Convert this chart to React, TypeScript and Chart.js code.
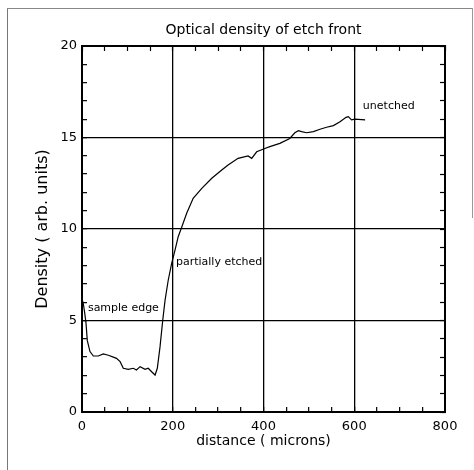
import { useEffect, useRef } from 'react';
import { Chart, registerables } from 'chart.js';

Chart.register(...registerables);

const FONT = '"DejaVu Sans", sans-serif';

const chartTitle = 'Optical density of etch front';
const xTitle = 'distance ( microns)';
const yTitle = 'Density ( arb. units)';

const distance = [0, 3, 6, 8.8, 11.7, 17.6, 25, 36, 47, 58, 69, 76, 84, 91, 102, 113, 120, 128, 139, 146, 153.5, 161, 166, 172, 178, 183, 190, 197.6, 205, 212, 219.7, 230.7, 245, 264, 286, 308, 322, 344, 366, 374, 385, 403, 414, 436, 458, 469, 477, 484, 495, 510, 524.5, 539, 554, 568.6, 582, 587, 594, 601.6, 624];
const density = [6.2, 5.9, 5.4, 4.86, 3.9, 3.3, 3.06, 3.06, 3.17, 3.1, 3.0, 2.93, 2.75, 2.39, 2.33, 2.39, 2.3, 2.48, 2.33, 2.39, 2.2, 2.02, 2.39, 3.57, 5.03, 6.1, 7.2, 8.12, 8.85, 9.58, 10.1, 10.86, 11.68, 12.22, 12.77, 13.22, 13.5, 13.86, 13.99, 13.86, 14.22, 14.4, 14.5, 14.68, 14.95, 15.26, 15.37, 15.32, 15.26, 15.32, 15.45, 15.56, 15.65, 15.86, 16.1, 16.14, 15.96, 16.0, 15.96];

const annotationTexts = ['sample edge', 'partially etched', 'unetched'];
const annotationX = [13, 207, 619];
const annotationY = [5.7, 8.2, 16.7];

const xMin = 0, xMax = 800, xMinorStep = 50, xMajorStep = 200;
const yMin = 0, yMax = 20, yMinorStep = 1, yMajorStep = 5;

export default function App() {
  const ref = useRef<HTMLCanvasElement>(null);

  useEffect(() => {
    if (!ref.current) return;
    const annot = {
      id: 'annot',
      afterDatasetsDraw(chart: any) {
        const { ctx, scales } = chart;
        const x = scales.x, y = scales.y;
        ctx.save();
        ctx.font = `11px ${FONT}`;
        ctx.fillStyle = '#000';
        ctx.textAlign = 'left';
        ctx.textBaseline = 'middle';
        annotationTexts.forEach((t, i) => {
          ctx.fillText(t, x.getPixelForValue(annotationX[i]), y.getPixelForValue(annotationY[i]));
        });
        ctx.restore();
      },
    };

    const gridColor = (step: number) => (c: any) =>
      c.tick && Math.abs(c.tick.value % step) < 1e-9 ? '#000' : 'rgba(0,0,0,0)';

    const tickFont = { family: FONT, size: 13 };

    const chart = new Chart(ref.current, {
      type: 'scatter',
      data: {
        datasets: [
          {
            data: distance.map((d, i) => ({ x: d, y: density[i] })),
            showLine: true,
            borderColor: '#000',
            borderWidth: 1.2,
            pointRadius: 0,
            fill: false,
            tension: 0,
            xAxisID: 'x',
            yAxisID: 'y',
          },
        ],
      },
      options: {
        animation: false,
        responsive: false,
        layout: { padding: { left: 0, top: 0, right: 29, bottom: 0 } },
        plugins: {
          legend: { display: false },
          tooltip: { enabled: false },
          title: {
            display: true,
            fullSize: false,
            text: chartTitle,
            color: '#000',
            font: { family: FONT, size: 14, weight: 'normal' },
            padding: { top: 22, bottom: 7.2 },
          },
        },
        scales: {
          x: {
            type: 'linear',
            position: 'bottom',
            min: xMin,
            max: xMax,
            ticks: {
              stepSize: xMinorStep,
              autoSkip: false,
              maxRotation: 0,
              padding: 12,
              color: '#000',
              font: tickFont,
              callback: (v: any) => (v % xMajorStep === 0 ? String(v) : ''),
            },
            grid: {
              color: gridColor(xMajorStep),
              lineWidth: 1.3,
              tickColor: '#000',
              tickWidth: 1.2,
              tickLength: -5,
            },
            border: { color: '#000', width: 2 },
            title: { display: true, text: xTitle, color: '#000', font: { family: FONT, size: 14 }, padding: { top: 0, bottom: 20 } },
            afterFit: (s: any) => { s.height = 58; },
          },
          x2: {
            type: 'linear',
            axis: 'x',
            position: 'top',
            min: xMin,
            max: xMax,
            ticks: { stepSize: xMinorStep, autoSkip: false, display: false },
            grid: { drawOnChartArea: false, tickColor: '#000', tickWidth: 1.2, tickLength: -5 },
            border: { color: '#000', width: 2 },
            afterFit: (s: any) => { s.height = 0; },
          },
          y: {
            type: 'linear',
            position: 'left',
            min: yMin,
            max: yMax,
            ticks: {
              stepSize: yMinorStep,
              autoSkip: false,
              padding: 10,
              color: '#000',
              font: tickFont,
              callback: (v: any) => (v % yMajorStep === 0 ? String(v) : ''),
            },
            grid: {
              color: gridColor(yMajorStep),
              lineWidth: 1.3,
              tickColor: '#000',
              tickWidth: 1.2,
              tickLength: -5,
            },
            border: { color: '#000', width: 2 },
            title: { display: true, text: yTitle, color: '#000', font: { family: FONT, size: 16 }, padding: { top: 33, bottom: 0 } },
            afterFit: (s: any) => { s.width = 82; },
          },
          y2: {
            type: 'linear',
            axis: 'y',
            position: 'right',
            min: yMin,
            max: yMax,
            ticks: { stepSize: yMinorStep, autoSkip: false, display: false },
            grid: { drawOnChartArea: false, tickColor: '#000', tickWidth: 1.2, tickLength: -5 },
            border: { color: '#000', width: 2 },
            afterFit: (s: any) => { s.width = 0; },
          },
        },
      } as any,
      plugins: [annot],
    });
    return () => chart.destroy();
  }, []);

  return (
    <div style={{ position: 'fixed', left: 0, top: 0, width: 474, height: 470, background: '#fff' }}>
      <canvas ref={ref} width={474} height={470} style={{ position: 'absolute', left: 0, top: 0, width: 474, height: 470 }} />
      <div style={{ position: 'absolute', left: 7, top: 8, width: 1, height: 462, background: '#777' }} />
      <div style={{ position: 'absolute', left: 7, top: 8, width: 466, height: 1, background: '#888' }} />
      <div style={{ position: 'absolute', left: 472, top: 8, width: 1, height: 210, background: '#999' }} />
    </div>
  );
}
